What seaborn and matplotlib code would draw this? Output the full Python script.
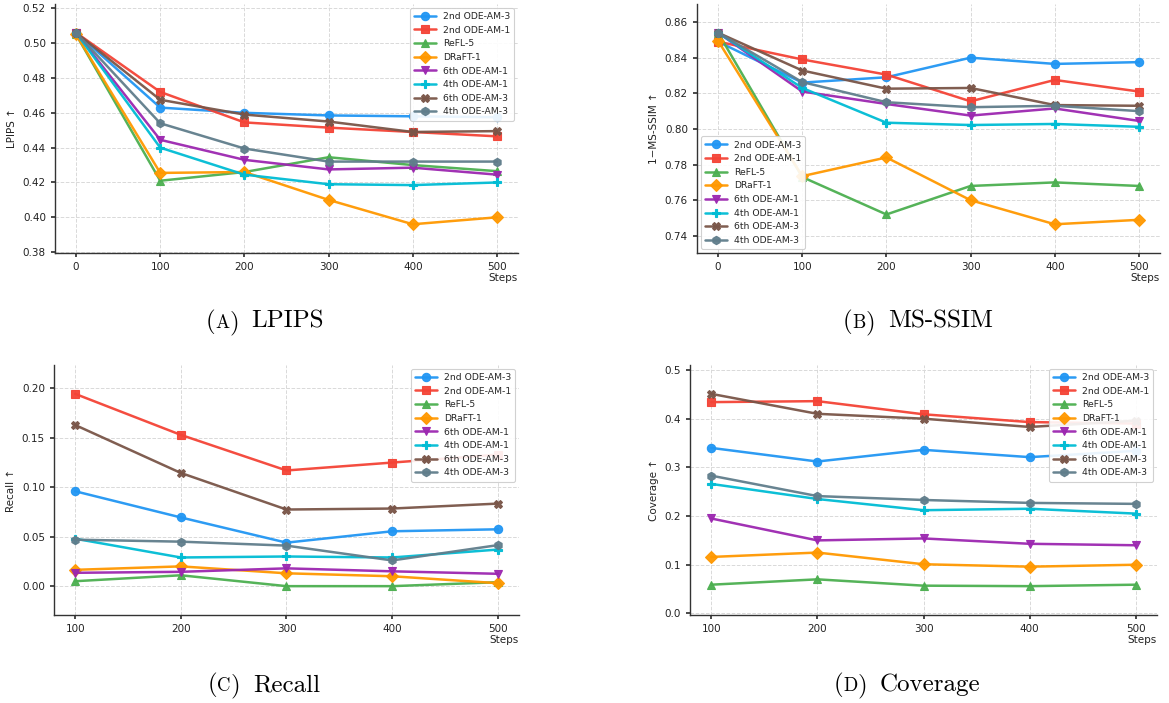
import matplotlib
matplotlib.use("Agg")
import matplotlib.pyplot as plt
import seaborn as sns
import pandas as pd
from matplotlib.offsetbox import TextArea, HPacker, AnchoredOffsetbox, DrawingArea

# ---- data ---------------------------------------------------------------
methods = ["2nd ODE-AM-3", "2nd ODE-AM-1", "ReFL-5", "DRaFT-1",
           "6th ODE-AM-1", "4th ODE-AM-1", "6th ODE-AM-3", "4th ODE-AM-3"]
colors = ["#2196F3", "#F44336", "#4CAF50", "#FF9800",
          "#9C27B0", "#00BCD4", "#795548", "#607D8B"]
markers = ["o", "s", "^", "D", "v", "P", "X", "h"]

steps_long = [0, 100, 200, 300, 400, 500]
steps_short = [100, 200, 300, 400, 500]

lpips = {
    "2nd ODE-AM-3": [0.506, 0.463, 0.460, 0.4585, 0.458, 0.4575],
    "2nd ODE-AM-1": [0.506, 0.472, 0.4545, 0.4515, 0.449, 0.4465],
    "ReFL-5":       [0.505, 0.421, 0.426, 0.4345, 0.430, 0.4265],
    "DRaFT-1":      [0.505, 0.4255, 0.426, 0.410, 0.396, 0.400],
    "6th ODE-AM-1": [0.506, 0.4445, 0.433, 0.4275, 0.4285, 0.4245],
    "4th ODE-AM-1": [0.506, 0.440, 0.4245, 0.419, 0.4185, 0.420],
    "6th ODE-AM-3": [0.506, 0.4675, 0.459, 0.455, 0.449, 0.4495],
    "4th ODE-AM-3": [0.506, 0.454, 0.4395, 0.432, 0.432, 0.432],
}
msssim = {
    "2nd ODE-AM-3": [0.849, 0.826, 0.829, 0.840, 0.8365, 0.8375],
    "2nd ODE-AM-1": [0.849, 0.839, 0.8305, 0.8155, 0.8275, 0.821],
    "ReFL-5":       [0.854, 0.773, 0.752, 0.768, 0.770, 0.768],
    "DRaFT-1":      [0.8495, 0.7735, 0.784, 0.760, 0.7465, 0.749],
    "6th ODE-AM-1": [0.854, 0.821, 0.814, 0.8075, 0.8115, 0.8045],
    "4th ODE-AM-1": [0.854, 0.823, 0.8035, 0.8022, 0.8028, 0.8012],
    "6th ODE-AM-3": [0.854, 0.8328, 0.8226, 0.823, 0.8134, 0.813],
    "4th ODE-AM-3": [0.854, 0.8263, 0.815, 0.8122, 0.813, 0.810],
}
recall = {
    "2nd ODE-AM-3": [0.096, 0.0695, 0.044, 0.0555, 0.0575],
    "2nd ODE-AM-1": [0.1945, 0.153, 0.117, 0.125, 0.133],
    "ReFL-5":       [0.005, 0.011, 0.0, 0.0, 0.004],
    "DRaFT-1":      [0.0165, 0.020, 0.013, 0.010, 0.003],
    "6th ODE-AM-1": [0.0135, 0.0145, 0.018, 0.015, 0.0125],
    "4th ODE-AM-1": [0.048, 0.029, 0.030, 0.029, 0.037],
    "6th ODE-AM-3": [0.163, 0.1145, 0.0775, 0.0785, 0.0835],
    "4th ODE-AM-3": [0.047, 0.045, 0.041, 0.026, 0.0415],
}
coverage = {
    "2nd ODE-AM-3": [0.340, 0.312, 0.336, 0.321, 0.334],
    "2nd ODE-AM-1": [0.434, 0.436, 0.409, 0.393, 0.390],
    "ReFL-5":       [0.059, 0.070, 0.057, 0.056, 0.059],
    "DRaFT-1":      [0.116, 0.125, 0.101, 0.096, 0.100],
    "6th ODE-AM-1": [0.195, 0.150, 0.154, 0.143, 0.140],
    "4th ODE-AM-1": [0.266, 0.235, 0.212, 0.215, 0.205],
    "6th ODE-AM-3": [0.451, 0.410, 0.400, 0.383, 0.396],
    "4th ODE-AM-3": [0.283, 0.241, 0.233, 0.227, 0.225],
}

# ---- style --------------------------------------------------------------
sns.set_theme(style="ticks")
plt.rcParams.update({
    "font.family": ["DejaVu Sans"],
    "axes.edgecolor": "#333333",
    "axes.linewidth": 1.0,
    "xtick.color": "#333333",
    "ytick.color": "#333333",
    "xtick.labelcolor": "#222222",
    "ytick.labelcolor": "#222222",
    "xtick.labelsize": 7.5,
    "ytick.labelsize": 7.5,
    "xtick.major.size": 3,
    "ytick.major.size": 3,
    "axes.labelsize": 7.5,
    "axes.labelcolor": "#222222",
})

W, H = 1169, 703
fig = plt.figure(figsize=(W / 100, H / 100), dpi=100)


def px_axes(left, top, right, bottom):
    return fig.add_axes([left / W, 1 - bottom / H, (right - left) / W, (bottom - top) / H])


def draw_panel(ax, steps, table, ylabel, yticks, legend_loc):
    for name, col, mk in zip(methods, colors, markers):
        df = pd.DataFrame({"step": steps, "value": table[name]})
        sns.lineplot(data=df, x="step", y="value", ax=ax, color=col, marker=mk,
                     markersize=6, linewidth=1.8, markeredgecolor=col,
                     markeredgewidth=0.8, label=name, alpha=0.95)
    vals = [v for name in methods for v in table[name]]
    lo, hi = min(vals), max(vals)
    r = hi - lo
    ax.set_ylim(lo - 0.15 * r, hi + 0.15 * r)
    ax.set_yticks(yticks)
    ax.set_xticks(steps)
    ax.grid(True, linestyle="--", color="#d9d9d9", linewidth=0.7)
    sns.despine(ax=ax)
    ax.set_ylabel(ylabel)
    ax.set_xlabel("Steps", loc="right", labelpad=1)
    leg = ax.legend(loc=legend_loc, fontsize=6.7, frameon=True, framealpha=0.9,
                    edgecolor="#cccccc", handlelength=2.4, borderpad=0.45,
                    labelspacing=0.5, handletextpad=0.7, borderaxespad=0.4)
    leg.get_frame().set_linewidth(0.8)


ax_a = px_axes(55, 4, 518, 253)
draw_panel(ax_a, steps_long, lpips, "LPIPS \u2191",
           [0.38, 0.40, 0.42, 0.44, 0.46, 0.48, 0.50, 0.52], "upper right")
ax_a.set_yticklabels([f"{t:.2f}" for t in ax_a.get_yticks()])

ax_b = px_axes(697, 4, 1160, 253)
draw_panel(ax_b, steps_long, msssim, "1\u2212MS-SSIM \u2191",
           [0.74, 0.76, 0.78, 0.80, 0.82, 0.84, 0.86], "lower left")
ax_b.set_yticklabels([f"{t:.2f}" for t in ax_b.get_yticks()])

ax_c = px_axes(54, 365, 519, 615)
draw_panel(ax_c, steps_short, recall, "Recall \u2191",
           [0.00, 0.05, 0.10, 0.15, 0.20], "upper right")
ax_c.set_yticklabels([f"{t:.2f}" for t in ax_c.get_yticks()])

ax_d = px_axes(690, 365, 1157, 615)
draw_panel(ax_d, steps_short, coverage, "Coverage \u2191",
           [0.0, 0.1, 0.2, 0.3, 0.4, 0.5], "upper right")
ax_d.set_yticklabels([f"{t:.1f}" for t in ax_d.get_yticks()])


# ---- sub-figure captions (serif, small-caps letter) ---------------------
def caption(cx, cy, letter, name):
    big = dict(family="cmr10", size=18, color="black")
    small = dict(family="cmr10", size=13.5, color="black")
    parts = [TextArea("(", textprops=big), TextArea(letter, textprops=small),
             TextArea(")", textprops=big), DrawingArea(9, 1),
             TextArea(name, textprops=big)]
    box = HPacker(children=parts, align="baseline", pad=0, sep=0)
    anchored = AnchoredOffsetbox(loc="center", child=box, frameon=False, pad=0,
                                 borderpad=0, bbox_to_anchor=(cx / W, 1 - cy / H),
                                 bbox_transform=fig.transFigure)
    fig.add_artist(anchored)


caption(265, 322, "A", "LPIPS")
caption(918, 322, "B", "MS-SSIM")
caption(264, 685, "C", "Recall")
caption(907, 685, "D", "Coverage")

fig.savefig("out.png", dpi=100)
